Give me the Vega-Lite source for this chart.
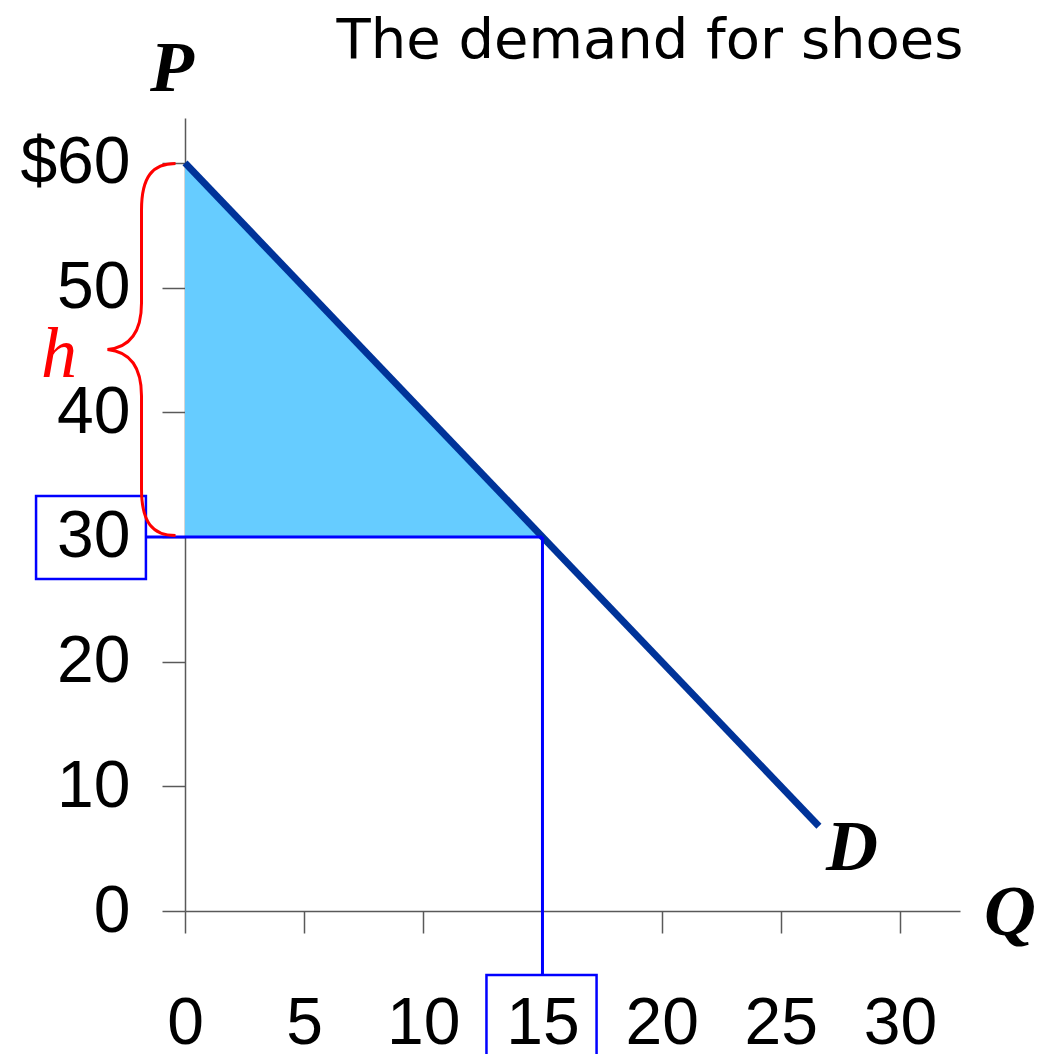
{
  "$schema": "https://vega.github.io/schema/vega-lite/v6.json",
  "width": 775,
  "height": 793,
  "autosize": "none",
  "padding": {"left": 185, "top": 118, "right": 84, "bottom": 143},
  "background": "white",
  "config": {"view": {"stroke": null}},
  "encoding": {
    "x": {
      "field": "q", "type": "quantitative",
      "scale": {"domain": [0, 32.52], "nice": false, "zero": false},
      "axis": {
        "values": [0, 5, 10, 15, 20, 25, 30], "title": null, "grid": false,
        "tickSize": 22, "tickColor": "#595959", "tickWidth": 1.5,
        "domainColor": "#595959", "domainWidth": 1.5,
        "labelFont": "Liberation Sans", "labelFontSize": 66, "labelColor": "black",
        "labelBaseline": "alphabetic", "labelPadding": 110,
        "labelFlush": false, "labelOverlap": false
      }
    },
    "y": {
      "field": "p", "type": "quantitative",
      "scale": {"domain": [0, 63.6], "nice": false, "zero": false},
      "axis": {
        "values": [0, 10, 20, 30, 40, 50, 60], "title": null, "grid": false,
        "tickSize": 23, "tickColor": "#595959", "tickWidth": 1.5,
        "domainColor": "#595959", "domainWidth": 1.5,
        "labelFont": "Liberation Sans", "labelFontSize": 66, "labelColor": "black",
        "labelBaseline": "middle", "labelPadding": 32,
        "labelExpr": "datum.value == 60 ? '$60' : datum.label",
        "labelFlush": false, "labelOverlap": false
      }
    }
  },
  "layer": [
    {
      "data": {"values": [{"q": 0, "p": 60, "p2": 30}, {"q": 15, "p": 30, "p2": 30}]},
      "mark": {"type": "area", "color": "#66CCFF", "opacity": 1},
      "encoding": {"y2": {"field": "p2"}}
    },
    {
      "data": {"values": [{"q": 0, "p": 60}, {"q": 26.6, "p": 6.8}]},
      "mark": {"type": "line", "color": "#003399", "strokeWidth": 7, "strokeCap": "butt"},
      "encoding": {}
    },
    {
      "data": {"values": [{"q": -1.64, "q2": 15, "p": 30}]},
      "mark": {"type": "rule", "color": "#0000FF", "strokeWidth": 3},
      "encoding": {"x2": {"field": "q2"}}
    },
    {
      "data": {"values": [{"q": 15, "p": 30, "p2": -5.13}]},
      "mark": {"type": "rule", "color": "#0000FF", "strokeWidth": 3},
      "encoding": {"y2": {"field": "p2"}}
    },
    {
      "data": {"values": [
        {"q": -6.25, "q2": -1.64, "p": 33.28, "p2": 26.62},
        {"q": 12.65, "q2": 17.27, "p": -5.13, "p2": -14}
      ]},
      "mark": {"type": "rect", "filled": false, "stroke": "#0000FF", "strokeWidth": 2.5},
      "encoding": {"x2": {"field": "q2"}, "y2": {"field": "p2"}}
    },
    {
      "data": {"values": [{"q": -1.825, "p": 45.03}]},
      "mark": {
        "type": "point", "filled": false, "color": "#FF0000", "strokeWidth": 3, "opacity": 1,
        "size": 138384,
        "shape": "M 0.183 -1 C 0.06 -1 0 -0.93 0 -0.75 L 0 -0.25 C 0 -0.07 -0.08 -0.01 -0.183 0 C -0.08 0.01 0 0.07 0 0.25 L 0 0.75 C 0 0.93 0.06 1 0.183 1"
      }
    },
    {
      "data": {"values": [{"q": 19.51, "p": 68.4, "label": "The demand for shoes"}]},
      "mark": {"type": "text", "font": "DejaVu Sans", "fontSize": 56, "color": "black", "align": "center", "baseline": "alphabetic"},
      "encoding": {"text": {"field": "label"}}
    },
    {
      "data": {"values": [
        {"q": -0.55, "p": 65.8, "label": "P"},
        {"q": 27.99, "p": 3.29, "label": "D"},
        {"q": 34.62, "p": -1.92, "label": "Q"}
      ]},
      "mark": {"type": "text", "font": "Liberation Serif", "fontSize": 72, "fontWeight": "bold", "fontStyle": "italic", "color": "black", "align": "center", "baseline": "alphabetic"},
      "encoding": {"text": {"field": "label"}}
    },
    {
      "data": {"values": [{"q": -5.29, "p": 42.8, "label": "h"}]},
      "mark": {"type": "text", "font": "Liberation Serif", "fontSize": 72, "fontStyle": "italic", "color": "#FF0000", "align": "center", "baseline": "alphabetic"},
      "encoding": {"text": {"field": "label"}}
    }
  ]
}
